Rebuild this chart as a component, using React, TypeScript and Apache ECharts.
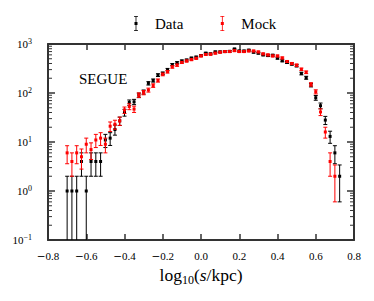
import React, { useEffect, useRef } from "react";
import * as echarts from "echarts";

// ---- data ----
const binCenters = [
  -0.7, -0.675, -0.65, -0.625, -0.6, -0.575, -0.55, -0.525, -0.5, -0.475,
  -0.45, -0.425, -0.4, -0.375, -0.35, -0.325, -0.3, -0.275, -0.25, -0.225,
  -0.2, -0.175, -0.15, -0.125, -0.1, -0.075, -0.05, -0.025, 0, 0.025,
  0.05, 0.075, 0.1, 0.125, 0.15, 0.175, 0.2, 0.225, 0.25, 0.275,
  0.3, 0.325, 0.35, 0.375, 0.4, 0.425, 0.45, 0.475, 0.5, 0.525,
  0.55, 0.575, 0.6, 0.625, 0.65, 0.675, 0.7, 0.725,
];

const dataCounts = [
  1, 1, 1, 4, 1, 4, 4, 4, 11, 12,
  18, 27, 40, 64, 66, 90, 105, 158, 180, 232,
  252, 300, 380, 415, 450, 470, 515, 540, 580, 650,
  630, 690, 690, 700, 710, 790, 720, 720, 750, 680,
  650, 600, 580, 590, 515, 455, 420, 390, 360, 250,
  205, 145, 80, 55, 28, 13, 6, 2,
];
const dataErrors = [
  1, 1, 1, 2, 1, 2, 2, 2, 3.3, 3.5,
  4.2, 5.2, 6.3, 8, 8.1, 9.5, 10.2, 12.6, 13.4, 15.2,
  15.9, 17.3, 19.5, 20.4, 21.2, 21.7, 22.7, 23.2, 24.1, 25.5,
  25.1, 26.3, 26.3, 26.5, 26.6, 28.1, 26.8, 26.8, 27.4, 26.1,
  25.5, 24.5, 24.1, 24.3, 22.7, 21.3, 20.5, 19.7, 19, 15.8,
  14.3, 12, 8.9, 7.4, 5.3, 3.6, 2.4, 1.4,
];

const mockCounts: (number | null)[] = [
  6, 4, 6, 5, 9, 7, 11, 12, 9, 21,
  23, 27, 45, 53, 47, 91, 102, 115, 142, 180,
  240, 272, 340, 370, 420, 450, 480, 510, 570, 610,
  620, 650, 680, 700, 700, 730, 700, 700, 720, 720,
  690, 630, 600, 570, 570, 520, 440, 400, 370, 305,
  265, 150, 106, 41, 16, 4, 2, null,
];
const mockErrors: (number | null)[] = [
  2.4, 2, 2.4, 2.2, 3, 2.6, 3.3, 3.5, 3, 4.6,
  4.8, 5.2, 6.7, 7.3, 6.9, 9.5, 10.1, 10.7, 11.9, 13.4,
  15.5, 16.5, 18.4, 19.2, 20.5, 21.2, 21.9, 22.6, 23.9, 24.7,
  24.9, 25.5, 26.1, 26.5, 26.5, 27, 26.5, 26.5, 26.8, 26.8,
  26.3, 25.1, 24.5, 23.9, 23.9, 22.8, 21, 20, 19.2, 17.5,
  16.3, 12.2, 10.3, 6.4, 4, 2, 1.4, null,
];

const seriesNames = ["Data", "Mock"];
const seriesColors = ["#000000", "#ff0000"];
const yDecades = [0.1, 1, 10, 100];
const minorMultipliers = [2, 3, 4, 5, 6, 7, 8, 9];

const X_MIN = -0.8;
const X_MAX = 0.8;
const X_INTERVAL = 0.2;
const Y_MIN = 0.1;
const Y_MAX = 1000;

const SERIF = '"Liberation Serif", "Times New Roman", serif';
const FRAME = "#333333";

const LEGEND_ICON =
  "path://M0,0H4V0.8H0Z M1.6,0H2.4V15H1.6Z M0,14.2H4V15H0Z M0.5,6H3.5V9H0.5Z";

function buildPoints(counts: (number | null)[], errs: (number | null)[]) {
  const out: number[][] = [];
  counts.forEach((c, i) => {
    if (c == null) return;
    const e = errs[i] as number;
    out.push([binCenters[i], c, c - e, c + e]);
  });
  return out;
}

function makeErrorRender(color: string) {
  return (params: any, api: any) => {
    const x = api.value(0);
    const v = api.value(1);
    const lo = api.value(2);
    const hi = api.value(3);
    const clipped = lo <= Y_MIN;
    const pTop = api.coord([x, hi]);
    const pBot = api.coord([x, clipped ? Y_MIN : lo]);
    const pc = api.coord([x, v]);
    const cx = pc[0];
    const st = { stroke: color, lineWidth: 1 };
    const children: any[] = [
      { type: "line", shape: { x1: cx, y1: pTop[1], x2: cx, y2: pBot[1] }, style: st },
      { type: "line", shape: { x1: cx - 2, y1: pTop[1], x2: cx + 2, y2: pTop[1] }, style: st },
    ];
    if (!clipped) {
      children.push({
        type: "line",
        shape: { x1: cx - 2, y1: pBot[1], x2: cx + 2, y2: pBot[1] },
        style: st,
      });
    }
    children.push({
      type: "rect",
      shape: { x: cx - 1.5, y: pc[1] - 1.5, width: 3, height: 3 },
      style: { fill: color },
    });
    return { type: "group", children };
  };
}

const minorTickValues: number[][] = [];
yDecades.forEach((d) =>
  minorMultipliers.forEach((m) => minorTickValues.push([X_MIN, d * m]))
);

const supMap: Record<string, string> = { "-1": "−1" };

export default function App() {
  const ref = useRef<HTMLDivElement>(null);
  useEffect(() => {
    if (!ref.current) return;
    const chart = echarts.init(ref.current, undefined, { renderer: "svg" });

    const xLabelFormatter = (v: number) => {
      const s = Math.abs(v).toFixed(1);
      return v < -1e-9 ? `{m|−}{n|${s}}` : `{n|${s}}`;
    };
    const yLabelFormatter = (v: number) => {
      const e = String(Math.round(Math.log10(v)));
      return `{b|10}{s|${supMap[e] ?? e}}`;
    };

    const axisLine = { show: true, onZero: false, lineStyle: { color: FRAME, width: 2 } };

    chart.setOption({
      animation: false,
      backgroundColor: "#ffffff",
      grid: { left: 48, right: 20, top: 44, bottom: 61 },
      legend: {
        left: 134,
        top: 16,
        padding: 0,
        itemGap: 37,
        itemWidth: 28,
        itemHeight: 15,
        symbolKeepAspect: true,
        selectedMode: false,
        data: seriesNames.map((n) => ({ name: n, icon: LEGEND_ICON })),
        textStyle: { fontFamily: SERIF, fontSize: 15, color: "#000" },
      },
      graphic: [
        {
          type: "text",
          x: 79,
          y: 79,
          style: {
            text: "SEGUE",
            font: `15px ${SERIF}`,
            fill: "#000",
            verticalAlign: "middle",
          },
        },
      ],
      xAxis: [
        {
          type: "value",
          min: X_MIN,
          max: X_MAX,
          interval: X_INTERVAL,
          position: "bottom",
          axisLine,
          axisTick: { inside: true, length: 6, lineStyle: { color: FRAME, width: 1.5 } },
          splitLine: { show: false },
          axisLabel: {
            margin: 10,
            formatter: xLabelFormatter,
            rich: {
              n: { fontFamily: SERIF, fontSize: 11, color: "#000" },
              m: { fontFamily: '"DejaVu Serif", serif', fontSize: 10.5, color: "#000" },
            },
          },
          name: "{a|log}{sub|10}{a|(}{i|s}{a|/kpc)}",
          nameLocation: "middle",
          nameGap: 19,
          nameTextStyle: {
            rich: {
              a: { fontFamily: SERIF, fontSize: 17.5, color: "#000", lineHeight: 22 },
              i: { fontFamily: SERIF, fontSize: 17.5, fontStyle: "italic", color: "#000", lineHeight: 22 },
              sub: { fontFamily: SERIF, fontSize: 12, color: "#000", lineHeight: 12, verticalAlign: "bottom" },
            },
          },
        },
        {
          type: "value",
          min: X_MIN,
          max: X_MAX,
          interval: X_INTERVAL,
          position: "top",
          axisLine,
          axisTick: { inside: true, length: 6, lineStyle: { color: FRAME, width: 1.5 } },
          axisLabel: { show: false },
          splitLine: { show: false },
        },
      ],
      yAxis: [
        {
          type: "log",
          logBase: 10,
          min: Y_MIN,
          max: Y_MAX,
          splitNumber: 4,
          position: "left",
          axisLine,
          axisTick: { inside: true, length: 7, lineStyle: { color: FRAME, width: 1.5 } },
          splitLine: { show: false },
          axisLabel: {
            margin: 16,
            formatter: yLabelFormatter,
            rich: {
              b: { fontFamily: SERIF, fontSize: 11, color: "#000", lineHeight: 14 },
              s: { fontFamily: SERIF, fontSize: 8, color: "#000", lineHeight: 8, verticalAlign: "top" },
            },
          },
        },
        {
          type: "log",
          logBase: 10,
          min: Y_MIN,
          max: Y_MAX,
          splitNumber: 4,
          position: "right",
          axisLine,
          axisTick: { inside: true, length: 7, lineStyle: { color: FRAME, width: 1.5 } },
          axisLabel: { show: false },
          splitLine: { show: false },
        },
      ],
      series: [
        {
          type: "custom",
          name: "minorTicks",
          xAxisIndex: 0,
          yAxisIndex: 0,
          silent: true,
          clip: false,
          z: 5,
          encode: { x: 0, y: 1 },
          data: minorTickValues,
          renderItem: (params: any, api: any) => {
            const v = api.value(1);
            const cs = params.coordSys;
            const y = api.coord([X_MIN, v])[1];
            const st = { stroke: FRAME, lineWidth: 1 };
            return {
              type: "group",
              children: [
                { type: "line", shape: { x1: cs.x, y1: y, x2: cs.x + 4, y2: y }, style: st },
                {
                  type: "line",
                  shape: { x1: cs.x + cs.width - 4, y1: y, x2: cs.x + cs.width, y2: y },
                  style: st,
                },
              ],
            };
          },
        },
        ...[
          { counts: dataCounts, errs: dataErrors },
          { counts: mockCounts, errs: mockErrors },
        ].map((s, k) => ({
          type: "custom",
          name: seriesNames[k],
          xAxisIndex: 0,
          yAxisIndex: 0,
          clip: true,
          z: 2 + k,
          itemStyle: { color: seriesColors[k] },
          encode: { x: 0, y: 1 },
          data: buildPoints(s.counts, s.errs),
          renderItem: makeErrorRender(seriesColors[k]),
        })),
      ],
    });
    return () => chart.dispose();
  }, []);
  return (
    <div
      ref={ref}
      style={{ position: "fixed", left: 0, top: 0, width: 374, height: 301 }}
    />
  );
}
